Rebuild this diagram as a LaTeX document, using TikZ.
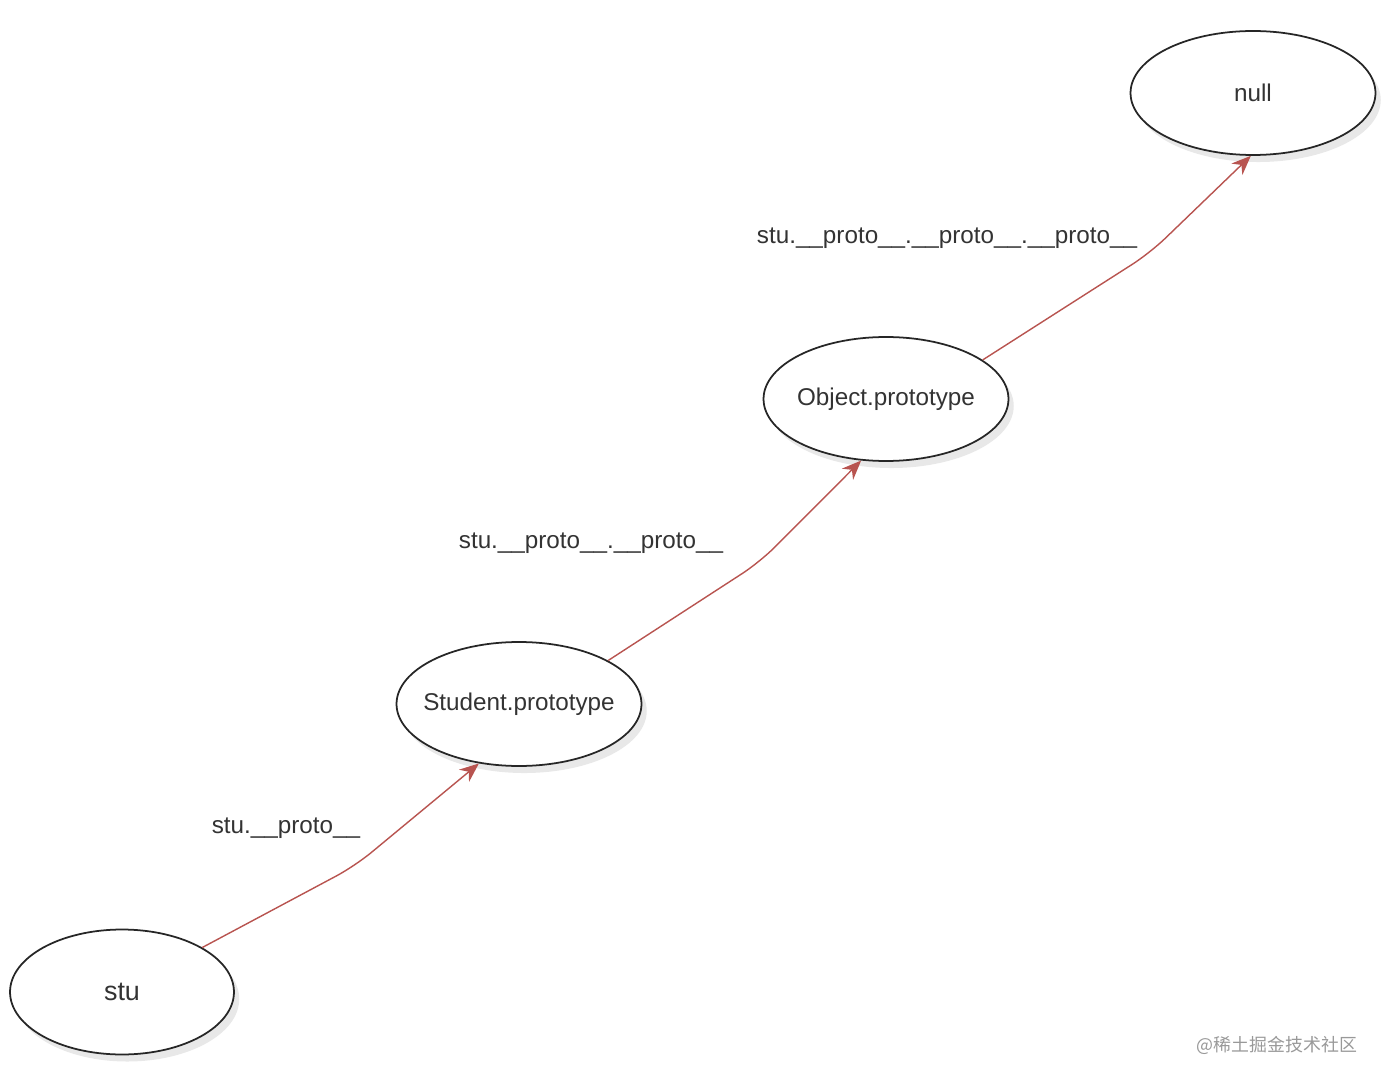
\documentclass[tikz,border=0pt]{standalone}
\usepackage{fontspec}
\setmainfont{Liberation Sans}
\newfontfamily\cjkfont{Noto Sans CJK SC}
\usetikzlibrary{arrows.meta,shapes.geometric,shadows}
\definecolor{linkred}{RGB}{184,84,80}

\begin{document}
\begin{tikzpicture}[>={Stealth[length=11pt,width=9pt]},x=0.02cm,y=-0.02cm,
    obj/.style={ellipse,draw=black!85,line width=1pt,fill=white,
      drop shadow={opacity=0.18,shadow xshift=3pt,shadow yshift=-4pt},
      minimum width=4.9cm,minimum height=2.48cm,inner ysep=0pt,inner xsep=-0.5cm,
      font=\fontsize{13.8}{16}\selectfont,text=black!80},
    link/.style={->,draw=linkred,line width=0.8pt,rounded corners=12pt},
    lbl/.style={font=\fontsize{13.8}{16}\selectfont,text=black!80}]
  \useasboundingbox (0,0) rectangle (1386,1084);
  % prototype chain
  \node[obj,minimum width=4.48cm,minimum height=2.5cm,
        font=\fontsize{15.3}{18}\selectfont] (stu) at (122,992) {stu};
  \node[obj] (sp) at (519,704) {Student.prototype};
  \node[obj] (op) at (886,399) {Object.prototype};
  \node[obj] (null) at (1253,93) {null};
  \coordinate (b1) at (355,866);
  \coordinate (b2) at (760,562);
  \coordinate (b3) at (1150,253);
  \draw[link] (stu.29) -- (b1) -- (sp.236);
  \draw[link] (sp.26) -- (b2) -- (op.248);
  \draw[link] (op.22) -- (b3) -- (null.268);
  \node[lbl] (l1) at (286,828) {stu.\_\_proto\_\_};
  \node[lbl] (l2) at (591,543) {stu.\_\_proto\_\_.\_\_proto\_\_};
  \node[lbl] (l3) at (947,238) {stu.\_\_proto\_\_.\_\_proto\_\_.\_\_proto\_\_};
  \node[font=\cjkfont\fontsize{10.2}{12}\selectfont,text=black!40] (mark) at (1277,1045) {@稀土掘金技术社区};
\end{tikzpicture}
\end{document}
